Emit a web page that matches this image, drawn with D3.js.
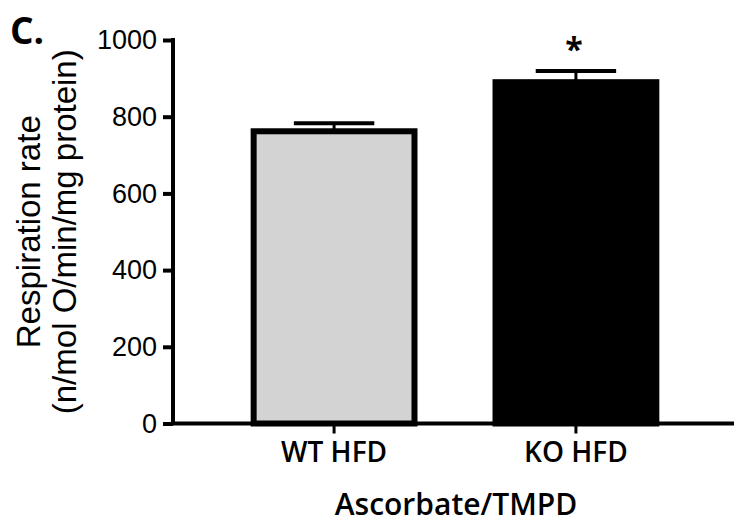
<!DOCTYPE html>
<html>
<head>
<meta charset="utf-8">
<script src="https://cdn.jsdelivr.net/npm/d3@7"></script>
<style>
  html, body { margin: 0; padding: 0; background: #fff; }
  svg { display: block; }
</style>
</head>
<body>
<svg id="chart" width="734" height="525"></svg>
<script>
// Respiration rate with Ascorbate/TMPD, mean ± SEM per group
const groups = ["WT HFD", "KO HFD"];
const means = [762, 890];
const sems = [21, 29];
const significance = ["", "*"];
const yTicks = [0, 200, 400, 600, 800, 1000];

const svg = d3.select("#chart");
const axisFont = "'Liberation Sans', Arial, sans-serif";
const labelFont = "'Open Sans', 'Noto Sans', sans-serif";

const x = d3.scaleBand()
  .domain(groups)
  .range([173, 737])
  .paddingInner(0.335)
  .paddingOuter(0.3335);

const y = d3.scaleLinear()
  .domain([0, 1000])
  .range([423.5, 40]);

const barColors = ["#d3d3d3", "#000000"];

// error bars (upper only), drawn under the bars
const err = svg.append("g");
groups.forEach((g, i) => {
  const cx = x(g) + x.bandwidth() / 2;
  const capHalf = x.bandwidth() / 4;
  err.append("line")
    .attr("x1", cx).attr("x2", cx)
    .attr("y1", y(means[i])).attr("y2", y(means[i] + sems[i]))
    .attr("stroke", "#000").attr("stroke-width", 3);
  err.append("line")
    .attr("x1", cx - capHalf).attr("x2", cx + capHalf)
    .attr("y1", y(means[i] + sems[i])).attr("y2", y(means[i] + sems[i]))
    .attr("stroke", "#000").attr("stroke-width", 4);
});

// bars
svg.append("g")
  .selectAll("rect")
  .data(groups)
  .join("rect")
  .attr("x", d => x(d))
  .attr("width", x.bandwidth())
  .attr("y", (d, i) => y(means[i]))
  .attr("height", (d, i) => y(0) - y(means[i]))
  .attr("fill", (d, i) => barColors[i])
  .attr("stroke", "#000")
  .attr("stroke-width", 6);

// significance marks
svg.append("g")
  .selectAll("text")
  .data(groups)
  .join("text")
  .attr("x", d => x(d) + x.bandwidth() / 2 - 2)
  .attr("y", (d, i) => y(means[i] + sems[i]) - 10)
  .attr("text-anchor", "middle")
  .attr("font-family", labelFont)
  .attr("font-weight", 700)
  .attr("font-size", 32)
  .text((d, i) => significance[i]);

// y axis
const yAxis = svg.append("g")
  .attr("transform", "translate(173,0)")
  .call(d3.axisLeft(y).tickValues(yTicks).tickFormat(d3.format("d"))
    .tickSize(10).tickSizeOuter(0).tickPadding(6));
yAxis.select(".domain").attr("stroke-width", 4).attr("d", `M0,${y(1000) - 2}V${y(0)}`);
yAxis.selectAll(".tick line").attr("stroke-width", 4);
yAxis.selectAll(".tick text")
  .attr("font-family", axisFont)
  .attr("font-size", 27)
  .attr("fill", "#000");

// x axis
const xAxis = svg.append("g")
  .attr("transform", `translate(0,${y(0)})`)
  .call(d3.axisBottom(x).tickSize(10).tickSizeOuter(0).tickPadding(9));
xAxis.select(".domain").attr("stroke-width", 4).attr("d", "M171,0H734");
xAxis.selectAll(".tick line").attr("stroke-width", 3);
xAxis.selectAll(".tick text")
  .attr("font-family", labelFont)
  .attr("font-weight", 600)
  .attr("font-size", 28)
  .attr("fill", "#000");

// axis titles
svg.append("text")
  .attr("x", 456)
  .attr("y", 515)
  .attr("text-anchor", "middle")
  .attr("font-family", labelFont)
  .attr("font-weight", 600)
  .attr("font-size", 30)
  .text("Ascorbate/TMPD");

const yTitle = svg.append("text")
  .attr("transform", `translate(0,${(y(0) + y(1000)) / 2}) rotate(-90)`)
  .attr("text-anchor", "middle")
  .attr("font-family", axisFont)
  .attr("font-size", 33);
yTitle.append("tspan").attr("x", 0).attr("y", 40).text("Respiration rate");
yTitle.append("tspan").attr("x", 0).attr("y", 76).text("(n/mol O/min/mg protein)");

// panel letter
svg.append("text")
  .attr("x", 10)
  .attr("y", 44)
  .attr("font-family", labelFont)
  .attr("font-weight", 700)
  .attr("font-size", 37)
  .text("C.");
</script>
</body>
</html>
